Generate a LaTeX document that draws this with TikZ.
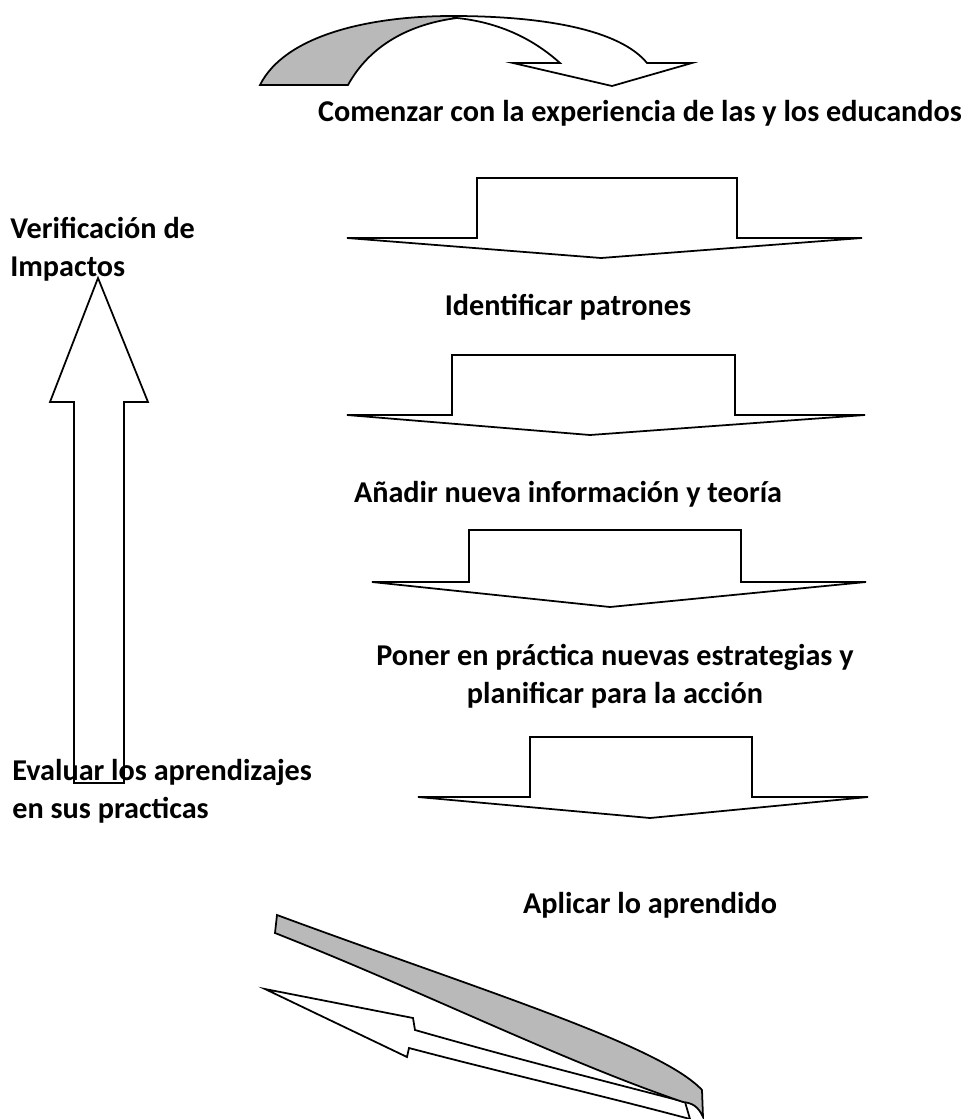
\documentclass[tikz,border=0pt]{standalone}
\usepackage{fontspec}
\setmainfont{Carlito}
\tikzset{
  steplabel/.style={font=\fontsize{17.2}{21.5}\selectfont\bfseries, align=center, inner sep=0pt},
  sidelabel/.style={steplabel, align=left, anchor=west},
  outline/.style={draw, line width=1pt, fill=white, line join=miter},
  band/.style={draw, line width=1pt, fill=gray!55}
}
\begin{document}
\begin{tikzpicture}[x=0.02cm, y=-0.02cm]
\useasboundingbox (0,0) rectangle (969,1119);

% Top curved arrow
\draw[band] (260,85) .. controls (285,35) and (370,16) .. (452,16)
  -- (457,18) .. controls (410,24) and (370,45) .. (348,85) -- cycle;
\draw[outline] (452,16) .. controls (545,16) and (620,30) .. (647,63) -- (692,63) -- (612,86)
  -- (513,63) -- (560,63) .. controls (530,36) and (495,22) .. (457,18) -- cycle;

% Down arrows
\draw[outline] (477,178) -- (737,178) -- (737,238) -- (862,238) -- (601,258) -- (347,238) -- (477,238) -- cycle;
\draw[outline] (452,355) -- (735,355) -- (735,415) -- (865,415) -- (590,435) -- (347,415) -- (452,415) -- cycle;
\draw[outline] (469,530) -- (741,530) -- (741,582) -- (866,582) -- (610,607) -- (372,582) -- (469,582) -- cycle;
\draw[outline] (530,737) -- (752,737) -- (752,797) -- (868,797) -- (650,818) -- (418,797) -- (530,797) -- cycle;

% Up arrow
\draw[outline] (74,783) -- (74,402) -- (50,402) -- (98,278) -- (148,402) -- (124,402) -- (124,783) -- cycle;

% Bottom curved arrow
\draw[outline] (265,989) -- (413,1018) -- (415,1030) .. controls (520,1060) and (620,1085) .. (685,1102)
  -- (690,1119) .. controls (600,1095) and (500,1072) .. (409,1048) -- (407,1057) -- cycle;
\draw[band] (277,915) .. controls (480,990) and (660,1045) .. (702,1090) -- (703,1117)
  .. controls (698,1106) and (692,1103) .. (683,1102) .. controls (560,1060) and (420,990) .. (275,933) -- cycle;

% Labels
\node[steplabel] (start) at (640,113) {Comenzar con la experiencia de las y los educandos};
\node[steplabel] (patterns) at (568,307) {Identificar patrones};
\node[steplabel] (theory) at (568,494) {Añadir nueva información y teoría};
\node[steplabel] (practice) at (615,676) {Poner en práctica nuevas estrategias y\\planificar para la acción};
\node[steplabel] (apply) at (650,905) {Aplicar lo aprendido};
\node[sidelabel] (verify) at (10,249) {Verificación de\\Impactos};
\node[sidelabel] (evaluate) at (12,791) {Evaluar los aprendizajes\\en sus practicas};

\end{tikzpicture}
\end{document}
